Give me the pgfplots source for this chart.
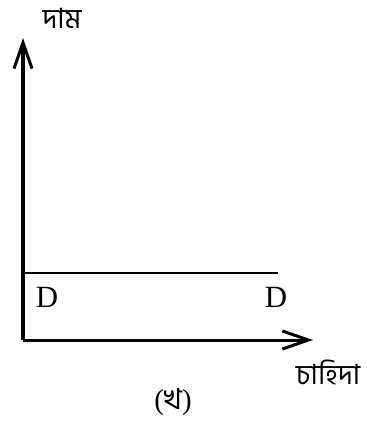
\documentclass[border=0pt]{standalone}
\usepackage{fontspec}
\setmainfont{Liberation Serif}
\newfontfamily\bn[Script=Bengali]{Hind Siliguri}
\usepackage{pgfplots}
\pgfplotsset{compat=1.18}
\usetikzlibrary{arrows.meta}
\begin{document}
\begin{tikzpicture}[x=1bp,y=1bp]
\path[use as bounding box] (-23,-83) rectangle (344,340);
\begin{axis}[
  at={(0,0)}, anchor=origin,
  scale only axis, width=290bp, height=302bp,
  xmin=0, xmax=290, ymin=0, ymax=302,
  axis lines=left,
  axis line style={line width=3bp, -{Straight Barb[length=26bp,width=18bp,line width=3bp]}},
  xtick=\empty, ytick=\empty,
  clip=false,
]
\addplot[black, line width=2.2bp, no marks] coordinates {(0,67) (255,67)};
\node[font=\fontsize{31}{31}\selectfont] at (axis cs:24,43) {D};
\node[font=\fontsize{31}{31}\selectfont] at (axis cs:253,43) {D};
\node[font=\fontsize{28}{28}\selectfont\bn] at (axis cs:39,322) {দাম};
\node[font=\fontsize{28}{28}\selectfont\bn] at (axis cs:305,-32) {চাহিদা};
\node[font=\fontsize{29}{29}\selectfont, anchor=base, inner sep=0pt] at (axis cs:150,-69) {({\bn খ})};
\end{axis}
\end{tikzpicture}
\end{document}
